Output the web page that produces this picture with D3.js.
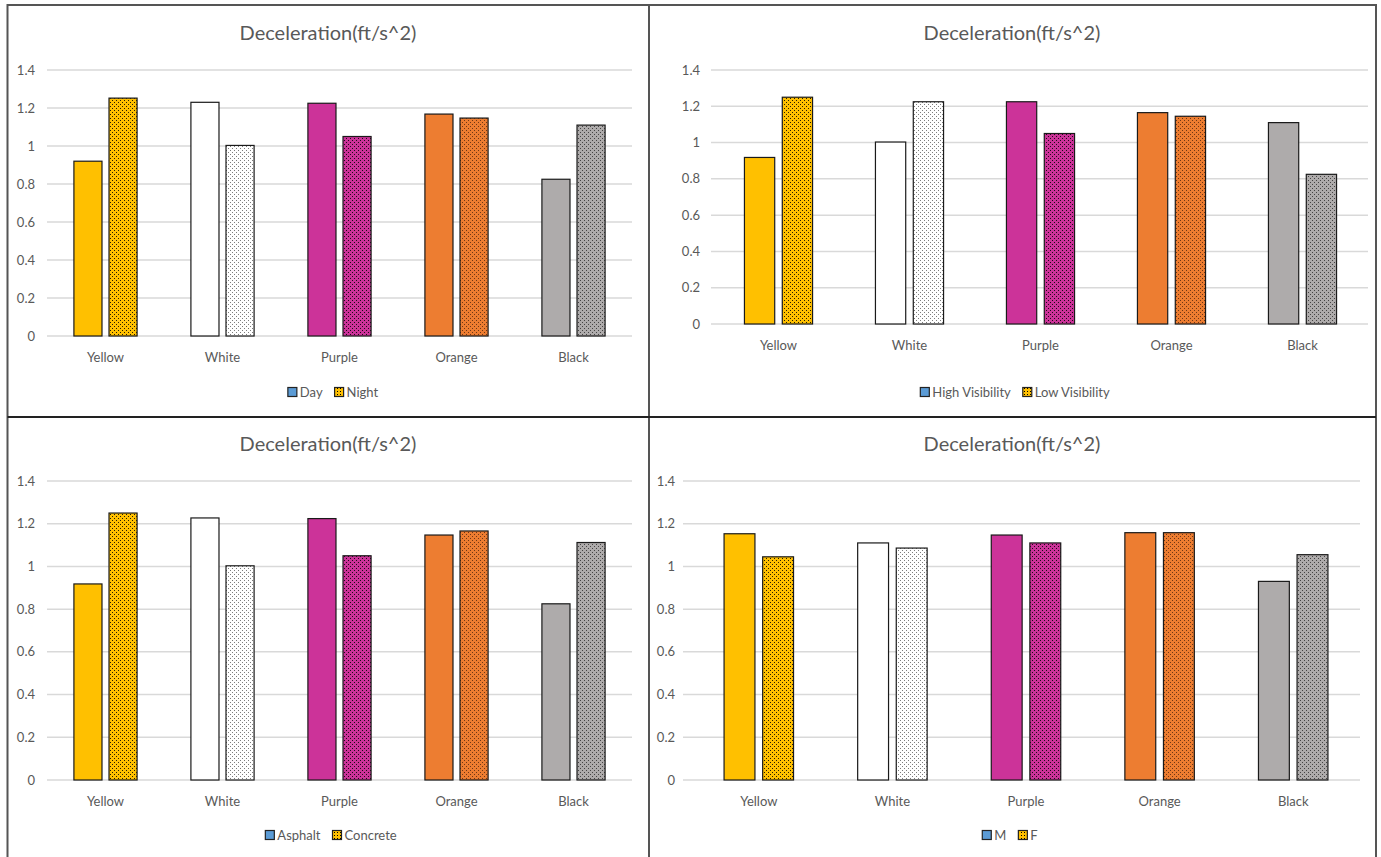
<!DOCTYPE html>
<html><head><meta charset="utf-8">
<script src="https://cdn.jsdelivr.net/npm/d3@7"></script>
<style>body{margin:0;background:#fff}svg{display:block}</style>
</head><body>
<svg id="c" width="1381" height="857"></svg>
<script>
const categories = ["Yellow","White","Purple","Orange","Black"];
const yTicks = [0,0.2,0.4,0.6,0.8,1,1.2,1.4];
const titleText = "Deceleration(ft/s^2)";
// Panel 1
const day = [0.92,1.23,1.225,1.168,0.825];
const night = [1.252,1.003,1.05,1.147,1.11];
// Panel 2
const highVis = [0.918,1.003,1.225,1.165,1.11];
const lowVis = [1.25,1.225,1.05,1.145,0.825];
// Panel 3
const asphalt = [0.918,1.227,1.224,1.147,0.825];
const concrete = [1.25,1.003,1.05,1.166,1.112];
// Panel 4
const male = [1.153,1.11,1.147,1.158,0.93];
const female = [1.045,1.086,1.11,1.158,1.055];

const barColors = ["#FFC000","#FFFFFF","#CC3399","#ED7D31","#AEABAB"];
const dotColors = ["#000","#666","#000","#5a2a10","#333"];

const svg = d3.select("#c");
const defs = svg.append("defs");
barColors.forEach((c,i)=>{
  const p = defs.append("pattern").attr("id","dot"+i).attr("patternUnits","userSpaceOnUse")
    .attr("width",4).attr("height",4);
  p.append("rect").attr("width",4).attr("height",4).attr("fill",c);
  p.append("rect").attr("x",0).attr("y",0).attr("width",1).attr("height",1).attr("fill",dotColors[i]).attr("opacity",0.85);
  p.append("rect").attr("x",2).attr("y",2).attr("width",1).attr("height",1).attr("fill",dotColors[i]).attr("opacity",0.85);
});
// legend pattern
{
  const p = defs.append("pattern").attr("id","legdot").attr("patternUnits","userSpaceOnUse").attr("width",3).attr("height",3);
  p.append("rect").attr("width",3).attr("height",3).attr("fill","#FFC000");
  p.append("rect").attr("x",1).attr("y",1).attr("width",1).attr("height",1).attr("fill","#000");
}

const font = "Lato, 'Open Sans', sans-serif";
const txt = "#595959";

const panels = [
  {s:[day,night], names:["Day","Night"], x:[47,632], y0:336, y1:70, title:[328,33], xl:357, leg:[333,392], yl:35, gx:[47,632], grp:0.54},
  {s:[highVis,lowVis], names:["High Visibility","Low Visibility"], x:[713,1368], y0:324, y1:70, title:[1012,33], xl:345, leg:[1015,392], yl:700, gx:[711,1368], grp:0.52},
  {s:[asphalt,concrete], names:["Asphalt","Concrete"], x:[47,632], y0:780, y1:481, title:[328,444], xl:801, leg:[331,835], yl:35, gx:[47,632], grp:0.54},
  {s:[male,female], names:["M","F"], x:[692,1360], y0:780, y1:481, title:[1012,444], xl:801, leg:[1010,835], yl:675, gx:[683,1360], grp:0.52}
];

panels.forEach(P=>{
  const g = svg.append("g");
  const y = d3.scaleLinear().domain([0,1.4]).range([P.y0,P.y1]);
  const x0 = d3.scaleBand().domain(categories).range(P.x).padding(0);
  const bw = x0.bandwidth();
  const W = bw*P.grp;
  const x1 = d3.scaleBand().domain([0,1]).range([(bw-W)/2,(bw+W)/2]).paddingInner(0.2).paddingOuter(0);
  // gridlines
  g.selectAll("line.grid").data(yTicks).join("line")
    .attr("x1",P.gx[0]).attr("x2",P.gx[1]).attr("y1",d=>y(d)).attr("y2",d=>y(d))
    .attr("stroke","#d9d9d9").attr("stroke-width",1.5);
  // y labels
  g.selectAll("text.yl").data(yTicks).join("text")
    .attr("x",P.yl).attr("y",d=>y(d)).attr("dy","0.35em").attr("text-anchor","end")
    .attr("font-family",font).attr("font-size",13).attr("fill",txt).text(d=>d);
  // bars
  categories.forEach((c,ci)=>{
    [0,1].forEach(si=>{
      const v = P.s[si][ci];
      g.append("rect")
        .attr("x",x0(c)+x1(si)).attr("width",x1.bandwidth())
        .attr("y",y(v)).attr("height",y(0)-y(v))
        .attr("fill", si===0 ? barColors[ci] : `url(#dot${ci})`)
        .attr("stroke","#1a1a1a").attr("stroke-width",1.2);
    });
    g.append("text").attr("x",x0(c)+bw/2).attr("y",P.xl).attr("dy","0.35em").attr("text-anchor","middle")
      .attr("font-family",font).attr("font-size",13).attr("fill",txt).text(c);
  });
  // title
  g.append("text").attr("x",P.title[0]).attr("y",P.title[1]).attr("dy","0.35em").attr("text-anchor","middle")
    .attr("font-family",font).attr("font-size",20).attr("fill",txt).text(titleText);
  // legend
  const lg = g.append("g");
  const t1 = lg.append("text").attr("font-family",font).attr("font-size",13).attr("fill",txt).attr("dy","0.35em").text(P.names[0]);
  const t2 = lg.append("text").attr("font-family",font).attr("font-size",13).attr("fill",txt).attr("dy","0.35em").text(P.names[1]);
  const w1 = t1.node().getComputedTextLength(), w2 = t2.node().getComputedTextLength();
  const sw = 9, gap = 3, between = 12;
  const total = sw+gap+w1+between+sw+gap+w2;
  let lx = P.leg[0]-total/2;
  lg.append("rect").attr("x",lx).attr("y",P.leg[1]-sw/2).attr("width",sw).attr("height",sw).attr("fill","#5B9BD5").attr("stroke","#222").attr("stroke-width",1.2);
  t1.attr("x",lx+sw+gap).attr("y",P.leg[1]);
  lx += sw+gap+w1+between;
  lg.append("rect").attr("x",lx).attr("y",P.leg[1]-sw/2).attr("width",sw).attr("height",sw).attr("fill","url(#legdot)").attr("stroke","#222").attr("stroke-width",1.2);
  t2.attr("x",lx+sw+gap).attr("y",P.leg[1]);
});

// frame
const fr = svg.append("g").attr("stroke","#555").attr("stroke-width",2).attr("fill","none");
fr.append("rect").attr("x",7.5).attr("y",5).attr("width",1368.5).attr("height",870);
fr.append("line").attr("x1",649).attr("x2",649).attr("y1",5).attr("y2",857);
fr.append("line").attr("x1",7.5).attr("x2",1376).attr("y1",417).attr("y2",417).attr("stroke","#222");
</script>
</body></html>
